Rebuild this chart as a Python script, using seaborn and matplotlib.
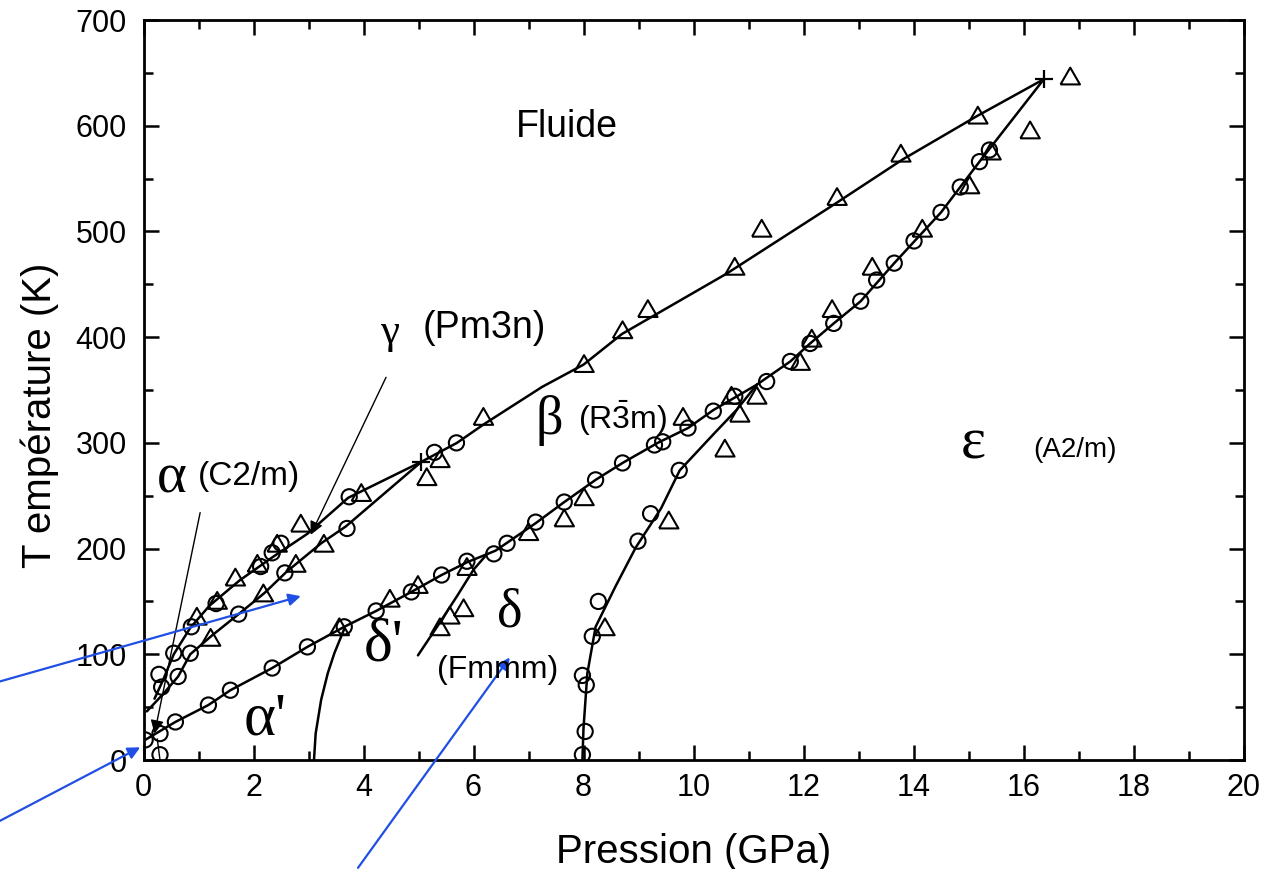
import matplotlib
matplotlib.use("Agg")
import matplotlib.pyplot as plt
import seaborn as sns
from matplotlib.ticker import MultipleLocator

# ---------------- measured points ----------------
circle_P = [0.33, 0.28, 0.55, 0.63, 0.85, 0.87, 1.32, 1.73, 2.13, 2.34, 2.50, 2.57, 3.70, 3.74,
            5.29, 5.69,
            0.03, 0.30, 0.30, 0.58, 1.18, 1.58, 2.34, 2.98, 3.65, 4.23, 4.87, 5.42, 5.88, 6.37,
            6.61, 7.13, 7.65, 8.22, 8.71, 9.29, 9.44, 9.90, 10.36, 10.75, 11.33, 11.76, 12.12,
            12.55, 13.04, 13.33, 13.65, 14.01, 14.50, 14.85, 15.20, 15.38,
            7.98, 8.03, 7.98, 8.05, 8.16, 8.27, 8.99, 9.22, 9.74]
circle_T = [69, 81, 101, 79, 101, 126, 148, 138, 183, 196, 205, 177, 219, 249,
            291, 300,
            19, 25, 5, 36, 52, 66, 87, 107, 126, 141, 159, 175, 188, 195,
            205, 225, 244, 265, 281, 298, 301, 314, 330, 344, 358, 377, 394,
            413, 434, 454, 470, 491, 518, 542, 566, 577,
            5, 27, 80, 71, 117, 150, 207, 233, 274]

tri_P = [0.97, 1.34, 1.22, 1.67, 2.07, 2.18, 2.43, 2.77, 2.86, 3.28, 3.96, 5.15, 5.39, 6.18,
         8.01, 8.71, 9.17, 10.75, 11.24, 12.61, 13.77, 15.17, 16.12, 16.85,
         3.56, 4.48, 4.99, 5.88, 7.00, 7.65, 8.01, 9.81, 10.69, 11.15, 11.94, 12.15, 12.52,
         13.25, 14.16, 15.02, 15.41,
         5.39, 5.57, 5.82,
         8.39, 9.55, 10.57, 10.84]
tri_T = [136, 151, 116, 173, 186, 158, 205, 186, 224, 205, 253, 268, 285, 325,
         375, 407, 427, 467, 503, 533, 574, 610, 596, 647,
         126, 153, 166, 183, 216, 229, 249, 325, 345, 345, 377, 399, 427,
         467, 503, 544, 576,
         126, 137, 144,
         126, 227, 295, 328]

triple_P = [5.05, 16.37]
triple_T = [282, 644]

# ---------------- phase boundaries ----------------
melt_gamma_P = [0.20, 0.35, 0.55, 0.85, 1.20, 1.75, 2.35, 2.98, 3.72, 5.05]
melt_gamma_T = [58, 75, 100, 125, 146, 170, 192, 214, 248, 282]

gamma_beta_P = [0.06, 0.35, 0.63, 0.85, 1.25, 1.73, 2.20, 2.60, 3.23, 3.68, 5.05]
gamma_beta_T = [46, 62, 79, 100, 118, 138, 158, 178, 205, 221, 282]

melt_P = [5.05, 5.70, 6.20, 7.25, 8.00, 8.70, 10.60, 12.60, 13.80, 15.15, 16.37]
melt_T = [282, 300, 318, 353, 374, 403, 460, 527, 568, 609, 644]

beta_P = [0.03, 0.58, 1.18, 1.58, 2.34, 2.98, 3.65, 4.23, 4.87, 5.42, 5.88, 6.40, 7.13,
          7.65, 8.22, 8.71, 9.35, 9.90, 10.36, 11.15]
beta_T = [19, 36, 52, 66, 87, 107, 126, 141, 159, 175, 187, 198, 224,
          244, 265, 281, 300, 314, 331, 355]

eps_P = [11.15, 11.76, 12.12, 12.55, 13.04, 13.65, 14.50, 15.20, 16.37]
eps_T = [355, 377, 394, 413, 434, 470, 518, 566, 644]

delta_eps_P = [7.98, 8.00, 8.07, 8.22, 8.58, 8.95, 9.41, 9.75, 10.36, 10.78, 11.15]
delta_eps_T = [0, 30, 82, 126, 164, 201, 238, 274, 308, 331, 355]

alpha_delta_P = [3.10, 3.13, 3.23, 3.35, 3.47, 3.65]
alpha_delta_T = [0, 25, 57, 82, 101, 124]

deltap_delta_P = [4.99, 5.35, 5.70, 6.00, 6.25]
deltap_delta_T = [99, 127, 155, 180, 195]

boundaries = [(melt_gamma_P, melt_gamma_T), (gamma_beta_P, gamma_beta_T), (melt_P, melt_T),
              (beta_P, beta_T), (eps_P, eps_T), (delta_eps_P, delta_eps_T),
              (alpha_delta_P, alpha_delta_T), (deltap_delta_P, deltap_delta_T)]

x_ticks = [0, 2, 4, 6, 8, 10, 12, 14, 16, 18, 20]
y_ticks = [0, 100, 200, 300, 400, 500, 600, 700]

# ---------------- style ----------------
sns.set_theme(style="ticks")
plt.rcParams["font.family"] = ["Liberation Sans", "DejaVu Sans"]
plt.rcParams["mathtext.fontset"] = "custom"
plt.rcParams["mathtext.rm"] = "Liberation Sans"
plt.rcParams["mathtext.it"] = "Liberation Sans"
for key in ["text.color", "axes.labelcolor", "xtick.color", "ytick.color",
            "xtick.labelcolor", "ytick.labelcolor", "axes.edgecolor"]:
    plt.rcParams[key] = "black"

fig = plt.figure(figsize=(12.79, 8.69), dpi=100)
ax = fig.add_axes([143.5 / 1279, 1 - 760 / 869, 1100 / 1279, 740 / 869])

for bp, bt in boundaries:
    sns.lineplot(x=bp, y=bt, sort=False, estimator=None, color="black", lw=1.8, ax=ax)

tri_marker = [(-1, -0.866), (1, -0.866), (0, 0.866), (-1, -0.866)]
sns.scatterplot(x=circle_P, y=circle_T, marker="o", s=120, facecolor="none",
                edgecolor="black", linewidth=1.5, ax=ax, zorder=3)
sns.scatterplot(x=tri_P, y=tri_T, marker=tri_marker, s=195, facecolor="none",
                edgecolor="black", linewidth=1.5, ax=ax, zorder=3)
sns.scatterplot(x=triple_P, y=triple_T, marker="+", s=150, color="black",
                linewidth=1.6, ax=ax, zorder=4)

# pointers from the phase labels
ax.annotate("", xy=(0.2, 25), xytext=(1.03, 234),
            arrowprops=dict(arrowstyle="-|>", color="black", lw=1.0,
                            mutation_scale=20, shrinkA=0, shrinkB=0))
ax.plot([0.25, 0.30], [20, 0], color="black", lw=1.0)
ax.annotate("", xy=(3.04, 213), xytext=(4.41, 362),
            arrowprops=dict(arrowstyle="-|>", color="black", lw=1.0,
                            mutation_scale=20, shrinkA=0, shrinkB=0))

# blue arrows reaching in from outside the frame
blue = "#1f4fe4"
for tail, head in [((-2.7, 73), (2.86, 155)), ((-2.7, -60), (-0.06, 12)),
                   ((3.9, -102), (6.66, 97))]:
    ax.annotate("", xy=head, xytext=tail, annotation_clip=False,
                arrowprops=dict(arrowstyle="-|>", color=blue, lw=1.6,
                                mutation_scale=18, shrinkA=0, shrinkB=0,
                                clip_on=False))

# phase labels
greek = ["Liberation Serif", "DejaVu Serif"]
ax.text(7.69, 599, "Fluide", fontsize=27, ha="center", va="center")
ax.text(0.52, 266, "α", fontsize=41, family=greek, ha="center", va="center")
ax.text(1.91, 268, "(C2/m)", fontsize=24, ha="center", va="center")
ax.text(4.47, 404, "γ", fontsize=31, family=greek, ha="center", va="center")
ax.text(6.2, 409, "(Pm3n)", fontsize=27, ha="center", va="center")
ax.text(7.38, 321, "β", fontsize=39, family=greek, ha="center", va="center")
ax.text(8.7, 323, r"(R$\bar{3}$m)", fontsize=23, ha="center", va="center")
ax.text(15.08, 298, "ε", fontsize=43, family=greek, ha="center", va="center")
ax.text(16.93, 293, "(A2/m)", fontsize=20, ha="center", va="center")
ax.text(6.66, 139, "δ", fontsize=39, family=greek, ha="center", va="center")
ax.text(6.43, 85, "(Fmmm)", fontsize=23, ha="center", va="center")
ax.text(4.37, 108, "δ'", fontsize=44, family=greek, ha="center", va="center")
ax.text(2.22, 38, "α'", fontsize=44, family=greek, ha="center", va="center")

# axes
ax.set_xlim(0, 20)
ax.set_ylim(0, 700)
ax.set_xticks(x_ticks)
ax.set_yticks(y_ticks)
ax.xaxis.set_minor_locator(MultipleLocator(1))
ax.yaxis.set_minor_locator(MultipleLocator(50))
ax.tick_params(which="both", direction="in", top=True, right=True, width=1.8,
               colors="black")
ax.tick_params(which="major", length=11, labelsize=22)
ax.tick_params(which="minor", length=6.5)
ax.tick_params(axis="x", which="major", pad=9)
ax.tick_params(axis="y", which="major", pad=12)
for sp in ax.spines.values():
    sp.set_linewidth(2.0)
    sp.set_color("black")

ax.set_xlabel("Pression (GPa)", fontsize=29)
ax.set_ylabel("T empérature (K)", fontsize=29)
ax.xaxis.set_label_coords(0.5, -0.098)
ax.yaxis.set_label_coords(-0.077, 0.466)

fig.savefig("out.png", dpi=100, facecolor="white")
